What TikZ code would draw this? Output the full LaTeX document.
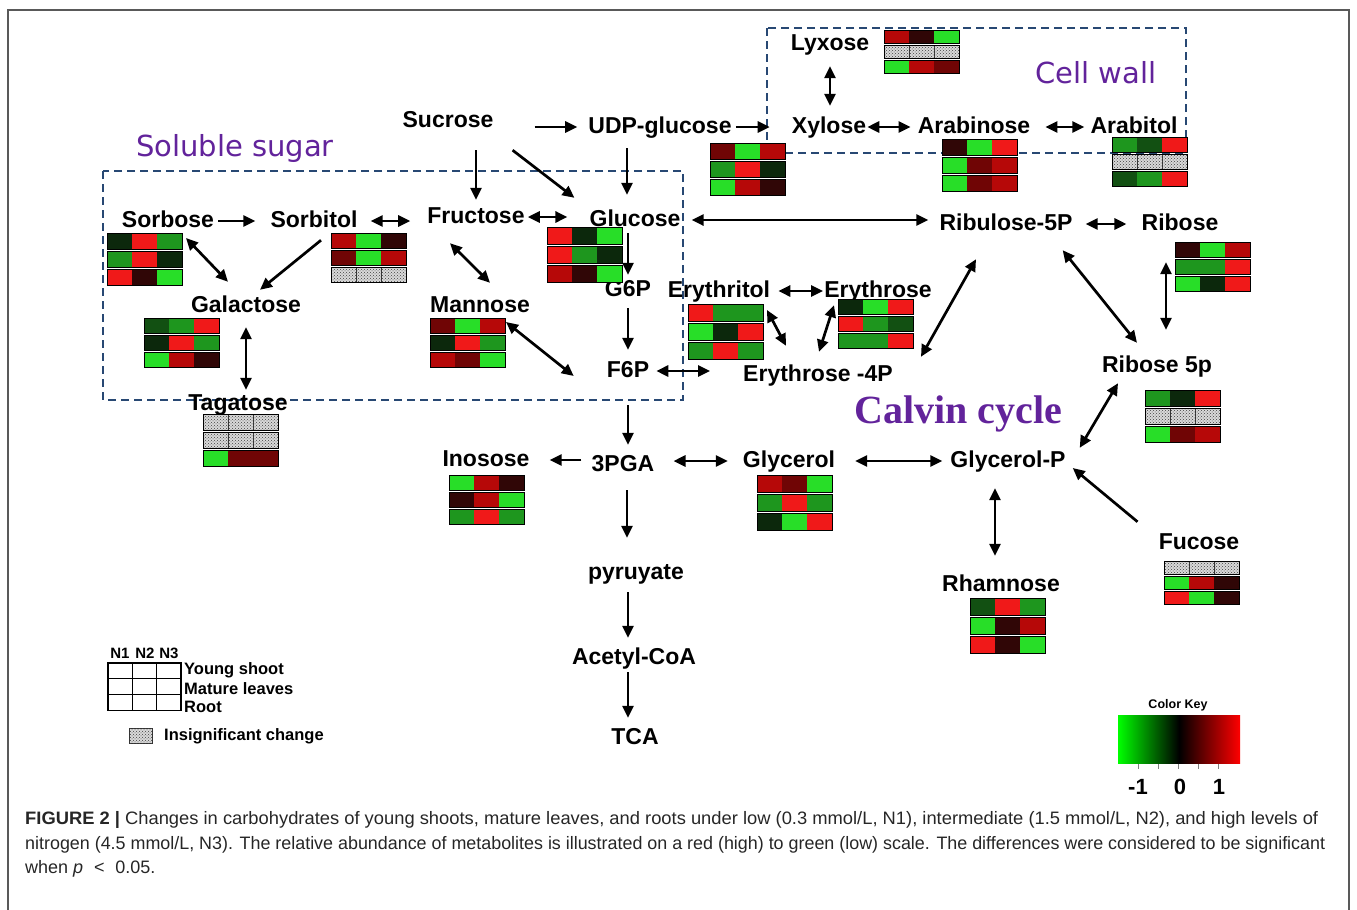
\documentclass[tikz,border=0pt]{standalone}
\usepackage{fontspec}
\setmainfont{Liberation Sans}
\newfontfamily\grpfont{DejaVu Sans}
\newfontfamily\calfont{Liberation Serif}
\usetikzlibrary{calc,arrows.meta,patterns}

\definecolor{hmG}{RGB}{40,222,40}
\definecolor{hmg}{RGB}{30,150,30}
\definecolor{hmdg}{RGB}{18,80,18}
\definecolor{hmkg}{RGB}{12,40,12}
\definecolor{hmkr}{RGB}{48,6,6}
\definecolor{hmdr}{RGB}{112,5,5}
\definecolor{hmr}{RGB}{182,8,8}
\definecolor{hmR}{RGB}{240,25,25}
\definecolor{grpblue}{RGB}{40,72,115}
\definecolor{grppurple}{RGB}{98,35,155}
\definecolor{keyG}{RGB}{0,255,0}
\definecolor{keyR}{RGB}{255,0,0}

\tikzset{
  met/.style={font=\fontsize{23}{23}\selectfont\bfseries, inner sep=1pt, text height=17pt, text depth=5pt},
  arr/.style={line width=2.7pt, -{Triangle[length=12pt,width=11pt]}},
  dbl/.style={line width=2.7pt, {Triangle[length=12pt,width=11pt]}-{Triangle[length=12pt,width=11pt]}},
  grp/.style={draw=grpblue, line width=2pt, dash pattern=on 8pt off 5pt},
  grplabel/.style={font=\grpfont\fontsize{29}{29}\selectfont, text=grppurple, inner sep=0pt},
  legtext/.style={font=\fontsize{16.5}{16.5}\selectfont\bfseries, inner sep=0pt, anchor=west},
  capline/.style={font=\fontsize{18}{18}\selectfont, text=black!85, inner sep=0pt, anchor=west},
  hmbox/.style={anchor=north west, minimum width=75pt, inner sep=0pt, outer sep=0pt},
  cG/.style={fill=hmG}, cg/.style={fill=hmg}, cdg/.style={fill=hmdg}, ckg/.style={fill=hmkg},
  ckr/.style={fill=hmkr}, cdr/.style={fill=hmdr}, cr/.style={fill=hmr}, cR/.style={fill=hmR},
  cH/.style={fill=gray!30, postaction={pattern=crosshatch dots, pattern color=black!75}, draw=black!80, line width=0.8pt},
}

\newcommand{\heatmap}[4][18]{%
  \node[hmbox, minimum height={3*#1-2}] (#2) at #3 {};
  \foreach \ka/\kb/\kc [count=\rw from 0] in {#4}{
    \path[c\ka] ($(#2.north west)+(0,\rw*#1)$) rectangle ++(25,#1-2);
    \path[c\kb] ($(#2.north west)+(25,\rw*#1)$) rectangle ++(25,#1-2);
    \path[c\kc] ($(#2.north west)+(50,\rw*#1)$) rectangle ++(25,#1-2);
    \draw[line width=1pt] ($(#2.north west)+(0,\rw*#1)$) rectangle ++(75,#1-2);
  }
}

\begin{document}
\begin{tikzpicture}[x=1pt,y=-1pt]
  \useasboundingbox (0,0) rectangle (1357,910);
  \draw[black!65, line width=1.2pt] (8,910) -- (8,10) -- (1349,10) -- (1349,910);

  % groups
  \draw[grp] (103,171) rectangle (683,400);
  \draw[grp] (767,28) rectangle (1186,153);
  \node[grplabel] (soluble) at (235,148) {Soluble sugar};
  \node[grplabel] (cellwall) at (1096,73) {Cell wall};
  \node[font=\calfont\fontsize{40}{40}\selectfont\bfseries, text=grppurple, inner sep=0pt] (calvin) at (958,414) {Calvin cycle};

  % metabolites
  \node[met] (sucrose) at (448,121) {Sucrose};
  \node[met] (udpg) at (660,127) {UDP-glucose};
  \node[met] (lyxose) at (830,44) {Lyxose};
  \node[met] (xylose) at (829,127) {Xylose};
  \node[met] (arabinose) at (974,127) {Arabinose};
  \node[met] (arabitol) at (1134,127) {Arabitol};
  \node[met] (sorbose) at (168,221) {Sorbose};
  \node[met] (sorbitol) at (314,221) {Sorbitol};
  \node[met] (fructose) at (476,217) {Fructose};
  \node[met] (glucose) at (635,220) {Glucose};
  \node[met] (ribulose) at (1006,224) {Ribulose-5P};
  \node[met] (ribose) at (1180,224) {Ribose};
  \node[met] (galactose) at (246,306) {Galactose};
  \node[met] (mannose) at (480,306) {Mannose};
  \node[met] (g6p) at (628,290) {G6P};
  \node[met] (erythritol) at (719,291) {Erythritol};
  \node[met] (erythrose) at (878,291) {Erythrose};
  \node[met] (f6p) at (628,371) {F6P};
  \node[met] (e4p) at (818,375) {Erythrose -4P};
  \node[met] (ribose5p) at (1157,366) {Ribose 5p};
  \node[met] (tagatose) at (238,404) {Tagatose};
  \node[met] (inosose) at (486,460) {Inosose};
  \node[met] (pga) at (623,465) {3PGA};
  \node[met] (glycerol) at (789,461) {Glycerol};
  \node[met] (glycerolp) at (1008,461) {Glycerol-P};
  \node[met] (pyruyate) at (636,573) {pyruyate};
  \node[met] (fucose) at (1199,543) {Fucose};
  \node[met] (rhamnose) at (1001,585) {Rhamnose};
  \node[met] (acetyl) at (634,658) {Acetyl-CoA};
  \node[met] (tca) at (635,738) {TCA};

  % heat maps: N1/N2/N3, shoot, leaves, root
  \heatmap{hm-udpg}{(710,143)}{dr/G/r, g/R/kg, G/r/kr}
  \heatmap[15]{hm-lyxose}{(884,30)}{r/kr/G, H/H/H, G/r/dr}
  \heatmap{hm-arabinose}{(942,139)}{kr/G/R, G/dr/r, G/dr/r}
  \heatmap[17]{hm-arabitol}{(1112,137)}{g/dg/R, H/H/H, dg/g/R}
  \heatmap{hm-sorbose}{(107,233)}{kg/R/g, g/R/kg, R/kr/G}
  \heatmap[17]{hm-sorbitol}{(331,233)}{r/G/kr, dr/G/r, H/H/H}
  \heatmap[17]{hm-galactose}{(144,318)}{dg/g/R, kg/R/g, G/r/kr}
  \heatmap{hm-tagatose}{(203,414)}{H/H/H, H/H/H, G/dr/dr}
  \heatmap[19]{hm-glucose}{(547,227)}{R/kg/G, R/g/kg, r/kr/G}
  \heatmap[17]{hm-mannose}{(430,318)}{dr/G/r, kg/R/g, r/dr/G}
  \heatmap[19]{hm-erythritol}{(688,304)}{R/g/g, G/kg/R, g/R/g}
  \heatmap[17]{hm-erythrose}{(838,299)}{kg/G/R, R/g/dg, g/g/R}
  \heatmap[17]{hm-ribose}{(1175,242)}{kr/G/r, g/g/R, G/kg/R}
  \heatmap{hm-ribose5p}{(1145,390)}{g/kg/R, H/H/H, G/dr/r}
  \heatmap[17]{hm-inosose}{(449,475)}{G/r/kr, kr/r/G, g/R/g}
  \heatmap[19]{hm-glycerol}{(757,475)}{r/dr/G, g/R/g, kg/G/R}
  \heatmap[19]{hm-rhamnose}{(970,598)}{dg/R/g, G/kr/r, R/kr/G}
  \heatmap[15]{hm-fucose}{(1164,561)}{H/H/H, G/r/kr, R/G/kr}

  % connectors
  \draw[arr, shorten <=40pt, shorten >=10pt] (sucrose.east |- udpg.west) -- (udpg.west);
  \draw[arr, shorten <=3pt, shorten >=21pt] (udpg.east) -- (xylose.west);
  \draw[dbl, shorten <=10pt, shorten >=9pt] (lyxose.south) -- (lyxose.south |- xylose.north);
  \draw[dbl, shorten >=6pt] (xylose.east) -- (arabinose.west);
  \draw[dbl, shorten <=14pt, shorten >=5pt] (arabinose.east) -- (arabitol.west);
  \draw[arr, shorten <=17pt, shorten >=5pt] (sucrose.south -| fructose.north) -- (fructose.north);
  \draw[arr] ([shift={(18,17)}]sucrose.south east) -- ([shift={(-14,-10)}]glucose.north west);
  \draw[arr, shorten <=9pt, shorten >=13pt] ([xshift=-8pt]glucose.north |- udpg.south) -- ([xshift=-8pt]glucose.north);
  \draw[arr, shorten <=3pt, shorten >=14pt] (sorbose.east) -- (sorbitol.west);
  \draw[dbl, shorten <=12pt, shorten >=16pt] (sorbitol.east) -- (sorbitol.east -| fructose.west);
  \draw[dbl, shorten <=2pt, shorten >=21pt] (fructose.east) -- (fructose.east -| glucose.west);
  \draw[dbl, shorten <=10pt, shorten >=10pt] (glucose.east) -- (glucose.east -| ribulose.west);
  \draw[dbl, shorten <=12pt, shorten >=14pt] (ribulose.east) -- (ribose.west);
  \draw[dbl] ([shift={(4,5)}]hm-sorbose.north east) -- ([shift={(-18,-12)}]galactose.north);
  \draw[arr] ([shift={(7,7)}]sorbitol.south) -- ([shift={(14,-4)}]galactose.north);
  \draw[dbl, shorten <=9pt, shorten >=2pt] (galactose.south) -- (galactose.south |- tagatose.north);
  \draw[dbl] ([shift={(-26,14)}]fructose.south) -- ([shift={(10,-11)}]mannose.north);
  \draw[arr, shorten <=1pt, shorten >=3pt] (g6p.north |- glucose.south) -- (g6p.north);
  \draw[dbl] ([shift={(1,4)}]hm-mannose.north east) -- ([shift={(-32,5)}]f6p.west);
  \draw[arr, shorten <=6pt, shorten >=9pt] (g6p.south) -- (f6p.north);
  \draw[dbl, shorten <=6pt, shorten >=32pt] (f6p.east) -- (f6p.east -| e4p.west);
  \draw[dbl, shorten <=7pt] (erythritol.east) -- (erythrose.west);
  \draw[dbl] ([shift={(4,6)}]hm-erythritol.north east) -- ([shift={(-32,-17)}]e4p.north);
  \draw[dbl] ([shift={(-44,2)}]erythrose.south) -- ([shift={(1,-11)}]e4p.north);
  \draw[dbl] ([shift={(-30,23)}]ribulose.south) -- ([shift={(27,-6)}]e4p.north east);
  \draw[dbl] ([shift={(-11,14)}]ribulose.south east) -- ([shift={(-20,-11)}]ribose5p.north);
  \draw[dbl, shorten <=26pt, shorten >=24pt] ([xshift=-14pt]ribose.south) -- ([xshift=-14pt]ribose.south |- ribose5p.north);
  \draw[arr, shorten <=22pt, shorten >=8pt] (f6p.south) -- (f6p.south |- pga.north);
  \draw[arr, shorten <=9pt, shorten >=19pt] (pga.west |- inosose.east) -- (inosose.east);
  \draw[dbl, shorten <=18pt, shorten >=14pt] (pga.east |- glycerol.west) -- (glycerol.west);
  \draw[dbl, shorten <=19pt, shorten >=7pt] (glycerol.east) -- (glycerolp.west);
  \draw[dbl] ([shift={(-39,5)}]ribose5p.south) -- ([shift={(13,-1)}]glycerolp.north east);
  \draw[dbl, shorten <=15pt, shorten >=17pt] ([xshift=-13pt]glycerolp.south) -- ([xshift=-13pt]glycerolp.south |- rhamnose.north);
  \draw[arr] ([shift={(-20,-9)}]fucose.north west) -- ([shift={(6,7)}]glycerolp.east);
  \draw[arr, shorten <=13pt, shorten >=23pt] ([xshift=4pt]pga.south) -- ([xshift=4pt]pga.south |- pyruyate.north);
  \draw[arr, shorten <=7pt, shorten >=8pt] ([xshift=-8pt]pyruyate.south) -- ([xshift=-8pt]pyruyate.south |- acetyl.north);
  \draw[arr, shorten <=2pt, shorten >=8pt] ([xshift=-6pt]acetyl.south) -- ([xshift=-6pt]acetyl.south |- tca.north);

  % legend
  \foreach \n/\x in {1/120,2/145,3/169}
    \node[font=\fontsize{15}{15}\selectfont\bfseries, inner sep=0pt] (lgn\n) at (\x,653) {N\n};
  \foreach \rw in {0,1,2}
    \foreach \cl in {0,1,2}
      \draw[line width=1.2pt] (108+24.3*\cl,663+15.7*\rw) rectangle ++(24.3,15.7);
  \node[legtext] (lgshoot) at (184,670) {Young shoot};
  \node[legtext] (lgleaves) at (184,689) {Mature leaves};
  \node[legtext] (lgroot) at (184,707) {Root};
  \path[cH] (129,728) rectangle (152,743);
  \node[legtext] (lginsig) at (164,736) {Insignificant change};

  % colour key
  \node[font=\fontsize{12.5}{12.5}\selectfont\bfseries, inner sep=0pt] (keytitle) at (1178,705) {Color Key};
  \shade[left color=keyG, right color=black] (1118,715) rectangle (1179,763);
  \shade[left color=black, right color=keyR] (1179,715) rectangle (1240,763);
  \foreach \t in {1138,1158,1178,1198,1218}
    \draw[gray, line width=1pt] (\t,764) -- (\t,769);
  \node[font=\fontsize{22}{22}\selectfont\bfseries, inner sep=0pt] (keym) at (1138,787) {-1};
  \node[font=\fontsize{22}{22}\selectfont\bfseries, inner sep=0pt] (keyz) at (1180,787) {0};
  \node[font=\fontsize{22}{22}\selectfont\bfseries, inner sep=0pt] (keyp) at (1219,787) {1};

  % caption
  \node[capline] (cap1) at (25,820) {\resizebox{1293pt}{\height}{\textbf{FIGURE 2 |} Changes in carbohydrates of young shoots, mature leaves, and roots under low (0.3 mmol/L, N1), intermediate (1.5 mmol/L, N2), and high levels of}};
  \node[capline] (cap2) at (25,845) {\resizebox{1300pt}{\height}{nitrogen (4.5 mmol/L, N3). The relative abundance of metabolites is illustrated on a red (high) to green (low) scale. The differences were considered to be significant}};
  \node[capline] (cap3) at (25,869) {when {\itshape p}\hspace{0.6em}{\textless}\hspace{0.6em}0.05.};
\end{tikzpicture}
\end{document}
